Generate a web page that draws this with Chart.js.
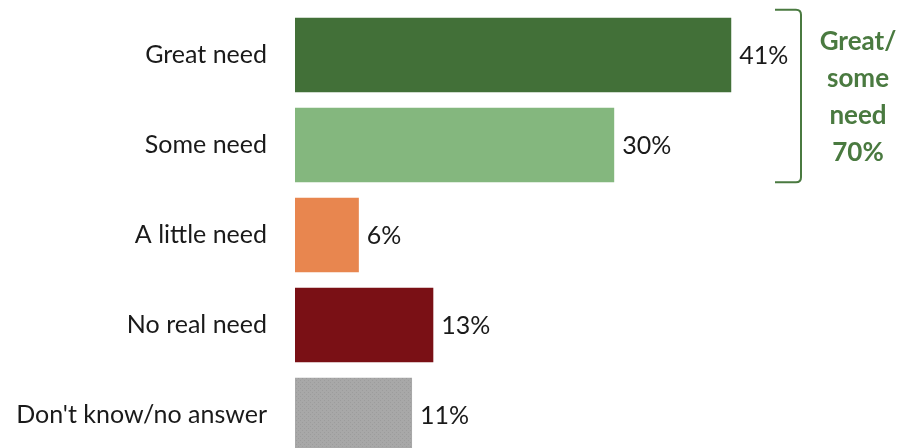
<!DOCTYPE html>
<html><head><meta charset="utf-8">
<script src="https://cdn.jsdelivr.net/npm/chart.js@4.4.0/dist/chart.umd.min.js"></script>
<style>html,body{margin:0;padding:0;overflow:hidden;background:#fff}canvas{display:block}</style>
</head><body><canvas id="c" width="907" height="470" style="width:907px;height:470px"></canvas>
<script>
const categories = ["Great need", "Some need", "A little need", "No real need", "Don't know/no answer"];
const values = [41, 30, 6, 13, 11];
const barColors = ["#427038", "#84b77e", "#e8864f", "#7a1015", "#a6a6a6"];
const groupLines = ["Great/", "some", "need", "70%"];
const groupRange = [0, 1];
const GREEN = "#4a7a40";
const FONT = "Lato, 'Open Sans', sans-serif";

function greyPattern() {
  const p = document.createElement('canvas');
  p.width = 4; p.height = 4;
  const g = p.getContext('2d');
  g.fillStyle = '#a8a8a8'; g.fillRect(0, 0, 4, 4);
  g.fillStyle = '#9c9c9c'; g.fillRect(0, 0, 1, 1); g.fillRect(2, 2, 1, 1);
  return g.createPattern(p, 'repeat');
}
const fills = barColors.slice();
fills[4] = greyPattern();

const valueLabels = {
  id: 'valueLabels',
  afterDatasetsDraw(chart) {
    const ctx = chart.ctx;
    const meta = chart.getDatasetMeta(0);
    ctx.save();
    ctx.font = "25px " + FONT;
    ctx.fillStyle = "#1a1a1a";
    ctx.textAlign = "left";
    ctx.textBaseline = "middle";
    meta.data.forEach((bar, i) => {
      ctx.fillText(values[i] + "%", bar.x + 8, bar.y + 1);
    });
    ctx.restore();
  }
};

const bracket = {
  id: 'bracket',
  afterDraw(chart) {
    const ctx = chart.ctx;
    const meta = chart.getDatasetMeta(0);
    const b0 = meta.data[groupRange[0]], b1 = meta.data[groupRange[1]];
    const top = b0.y - b0.height / 2 - 8;
    const bot = b1.y + b1.height / 2;
    const x = 801, x0 = 775, r = 5;
    ctx.save();
    ctx.strokeStyle = GREEN;
    ctx.lineWidth = 2;
    ctx.beginPath();
    ctx.moveTo(x0, top);
    ctx.lineTo(x - r, top);
    ctx.quadraticCurveTo(x, top, x, top + r);
    ctx.lineTo(x, bot - r);
    ctx.quadraticCurveTo(x, bot, x - r, bot);
    ctx.lineTo(x0, bot);
    ctx.stroke();
    ctx.font = "bold 26px " + FONT;
    ctx.fillStyle = GREEN;
    ctx.textAlign = "center";
    ctx.textBaseline = "alphabetic";
    const mid = (top + bot) / 2 + 9.5;
    const lh = 37;
    groupLines.forEach((t, i) => {
      ctx.fillText(t, 858, mid + (i - (groupLines.length - 1) / 2) * lh);
    });
    ctx.restore();
  }
};

new Chart(document.getElementById('c'), {
  type: 'bar',
  data: {
    labels: categories,
    datasets: [{
      data: values,
      backgroundColor: fills,
      borderWidth: 0,
      barPercentage: 0.83,
      categoryPercentage: 1
    }]
  },
  options: {
    indexAxis: 'y',
    responsive: false,
    maintainAspectRatio: false,
    devicePixelRatio: 1,
    animation: false,
    layout: { padding: { top: 10, bottom: 10, left: 0, right: 80 } },
    plugins: { legend: { display: false }, tooltip: { enabled: false } },
    scales: {
      x: { display: false, min: 0, max: 50 },
      y: {
        grid: { display: false, drawTicks: false },
        border: { display: false },
        ticks: { color: "#1a1a1a", font: { family: FONT, size: 25 }, padding: 28 },
        afterFit(s) { s.width = 295; s.paddingTop = 0; s.paddingBottom = 0; }
      }
    }
  },
  plugins: [valueLabels, bracket]
});
</script>
</body></html>
